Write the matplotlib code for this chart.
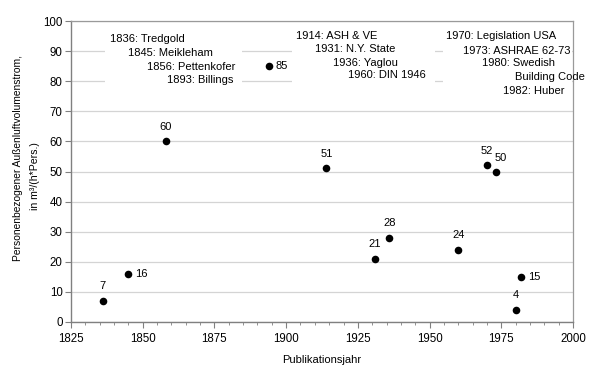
import matplotlib
matplotlib.use("Agg")
import matplotlib.pyplot as plt
from matplotlib.patches import Rectangle
from matplotlib.ticker import MultipleLocator

plt.rcParams["font.family"] = ["Liberation Sans", "DejaVu Sans"]
plt.rcParams["font.size"] = 8

# ---------------------------------------------------------------------------
# Data
# ---------------------------------------------------------------------------

years = [1836, 1845, 1858, 1894, 1914, 1931, 1936, 1960, 1970, 1973, 1980, 1982]
values = [7, 16, 60, 85, 51, 21, 28, 24, 52, 50, 4, 15]
# where each value label sits relative to its point
label_pos = ["above", "right", "above", "right", "above", "above",
             "above", "above", "above", "aboveright", "above", "right"]

left_col = ["1836: Tredgold", "1845: Meikleham", "1856: Pettenkofer", "1893: Billings"]
mid_col = ["1914: ASH & VE", "1931: N.Y. State", "1936: Yaglou", "1960: DIN 1946"]
right_col = ["1970: Legislation USA", "1973: ASHRAE 62-73", "1980: Swedish",
             "Building Code", "1982: Huber"]

x_label = "Publikationsjahr"
y_label = ["Personenbezogener Außenluftvolumenstrom,", "in m³/(h*Pers.)"]

# ---------------------------------------------------------------------------
# Figure
# ---------------------------------------------------------------------------

W, H = 601, 378
fig = plt.figure(figsize=(W / 100, H / 100), dpi=100)
ax = fig.add_axes([71 / W, 1 - 322 / H, (573 - 71) / W, (322 - 21) / H])

ax.set_xlim(1825, 2000)
ax.set_ylim(0, 100)
ax.xaxis.set_major_locator(MultipleLocator(25))
ax.xaxis.set_minor_locator(MultipleLocator(5))
ax.yaxis.set_major_locator(MultipleLocator(10))
ax.yaxis.grid(True, color="#d4d4d4", linewidth=0.9, zorder=0)
ax.set_axisbelow(True)

for side in ["left", "bottom"]:
    ax.spines[side].set_color("#808080")
    ax.spines[side].set_linewidth(1.0)
for side in ["top", "right"]:
    ax.spines[side].set_color("#9a9a9a")
    ax.spines[side].set_linewidth(0.9)

ax.tick_params(axis="both", which="major", direction="out", length=4,
               color="#808080", labelsize=8.3, pad=2)
ax.tick_params(axis="x", which="minor", direction="out", length=2.5, color="#808080")
ax.tick_params(axis="y", which="minor", left=False)
ax.tick_params(axis="x", which="major", pad=4)

ax.scatter(years, values, s=30, color="black", zorder=4, linewidths=0)

for x, y, pos in zip(years, values, label_pos):
    if pos == "above":
        off, ha, va = (0, 7), "center", "bottom"
    elif pos == "right":
        off, ha, va = (5, 0), "left", "center"
    else:
        off, ha, va = (4, 6), "center", "bottom"
    ax.annotate(str(y), (x, y), xytext=off, textcoords="offset points",
                ha=ha, va=va, fontsize=8, zorder=5)

# white panels behind the publication list
for x0, x1 in [(105, 242), (292, 435), (443, 572)]:
    ax.add_patch(Rectangle(((x0 - 71) / 502, (322 - 100) / 301),
                           (x1 - x0) / 502, (100 - 27) / 301,
                           transform=ax.transAxes, facecolor="white",
                           edgecolor="none", zorder=1))


def put_lines(lines, lefts, tops):
    for txt, px, py in zip(lines, lefts, tops):
        ax.text((px - 71) / 502, (322 - py) / 301, txt, transform=ax.transAxes,
                ha="left", va="center", fontsize=8, zorder=3)


put_lines(left_col, [110, 128, 147, 167], [39, 53, 67, 80])
put_lines(mid_col, [296, 315, 333, 348], [36, 49, 63, 75])
put_lines(right_col, [446, 463, 482, 515, 503], [36, 51, 63, 77, 91])

fig.text((71 + 573) / 2 / W, 1 - 360 / H, x_label, ha="center", va="center", fontsize=8)
fig.text(18 / W, 1 - 158 / H, y_label[0], rotation=90, ha="center", va="center", fontsize=7.4)
fig.text(35 / W, 1 - 176 / H, y_label[1], rotation=90, ha="center", va="center", fontsize=7.6)

fig.savefig("out.png", dpi=100)
